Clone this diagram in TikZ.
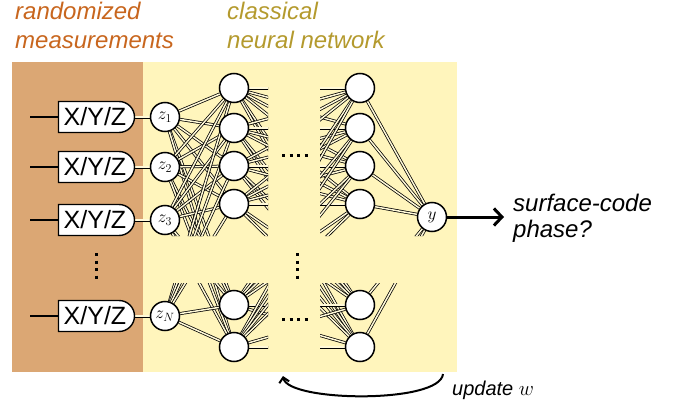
\documentclass[tikz,border=0pt]{standalone}
\usepackage{fontspec}
\setmainfont{Liberation Sans}
\usetikzlibrary{arrows.meta,positioning,backgrounds,shapes.misc}
\definecolor{measbrown}{HTML}{DBA774}
\definecolor{netyellow}{HTML}{FFF5BC}
\definecolor{measorange}{HTML}{C8661E}
\definecolor{netolive}{HTML}{B49A2E}
\definecolor{linkfill}{HTML}{FFF9D8}

\begin{document}
\begin{tikzpicture}[x=1pt, y=-1pt,
    meas/.style={draw, line width=1.4pt, fill=white, rounded rectangle,
                 rounded rectangle west arc=none, minimum width=76pt,
                 minimum height=31pt, inner sep=0pt,
                 font=\fontsize{25}{25}\selectfont},
    neuron/.style={draw, circle, line width=1.5pt, fill=white,
                   minimum size=29pt, inner sep=0pt,
                   font=\fontsize{17}{17}\selectfont},
    link/.style={double=linkfill, double distance=1.5pt, line width=0.75pt},
    wire/.style={line width=2.8pt},
    dotline/.style={line width=3pt, dash pattern=on 3pt off 4.5pt},
    ttl/.style={anchor=base west, inner sep=0pt,
                font=\fontsize{24}{26}\selectfont\itshape},
    outarr/.style={-{Straight Barb[length=8pt,width=17pt]}, line width=3pt},
    updarr/.style={-{Straight Barb[length=5pt,width=10pt]}, line width=2pt}
  ]
    \useasboundingbox (0,0) rectangle (689,407);

    % Titles
    \node[ttl, measorange] (ttlA) at (15,19) {randomized};
    \node[ttl, measorange] (ttlB) at (15,48) {measurements};
    \node[ttl, netolive] (ttlC) at (227,19) {classical};
    \node[ttl, netolive] (ttlD) at (227,48) {neural network};

    % Measurements and inputs
    \foreach \n/\yy in {1/117,2/167,3/220,N/316} {
      \coordinate (in\n) at (30,\yy);
      \node[meas] (m\n) at (95,\yy) {X/Y/Z};
      \node[neuron] (z\n) at (165,\yy) {$z_{\n}$};
      \draw[wire] (in\n) -- (m\n.west);
    }

    % Hidden layers (nx, px: layers hidden behind the dots)
    \foreach \i/\yy in {1/88,2/128,3/166,4/204,5/305,6/347} {
      \node[neuron] (h\i) at (234,\yy) {};
      \node[neuron] (o\i) at (360,\yy) {};
      \coordinate (nx\i) at (380,\yy);
      \coordinate (px\i) at (214,\yy);
    }
    \node[neuron] (y) at (432,217) {$y$};

    % Dots
    \draw[dotline] (96,253) -- (96,281);
    \draw[dotline] (297,253) -- (297,281);
    \draw[dotline] (282,155) -- (311,155);
    \draw[dotline] (282,319) -- (311,319);

    % Output
    \coordinate (outtip) at (504,217);
    \draw[outarr] (y) -- (outtip);
    \node[ttl] (outA) at (513,211) {surface-code};
    \node[ttl] (outB) at (513,237) {phase?};

    % Update loop
    \coordinate (updS) at (443,374);
    \coordinate (updE) at (283,376);
    \draw[updarr] (updS) .. controls (440,404) and (288,402) .. (updE);
    \node[ttl, font=\fontsize{20}{22}\selectfont] (upd) at (452,395)
      {\itshape update $w$};

    % Backgrounds and links
    \begin{scope}[on background layer]
      \fill[measbrown] (12,62) rectangle (143,372);
      \fill[netyellow] (143,62) rectangle (457,372);
      \foreach \n in {1,2,3,N} \draw[link] (m\n.east) -- (z\n);
      \begin{scope}
        \clip (143,62) rectangle (457,236) (143,283) rectangle (457,372);
        \foreach \a in {1,2,3,N} \foreach \b in {1,...,6} \draw[link] (z\a) -- (h\b);
        \foreach \b in {1,...,6} \draw[link] (o\b) -- (y);
      \end{scope}
      \begin{scope}
        \clip (143,62) rectangle (268,236) (143,283) rectangle (268,372);
        \foreach \a in {1,...,6} \foreach \b in {1,...,6} \draw[link] (h\a) -- (nx\b);
      \end{scope}
      \begin{scope}
        \clip (320,62) rectangle (457,236) (320,283) rectangle (457,372);
        \foreach \a in {1,...,6} \foreach \b in {1,...,6} \draw[link] (px\a) -- (o\b);
      \end{scope}
    \end{scope}
  \end{tikzpicture}
\end{document}
